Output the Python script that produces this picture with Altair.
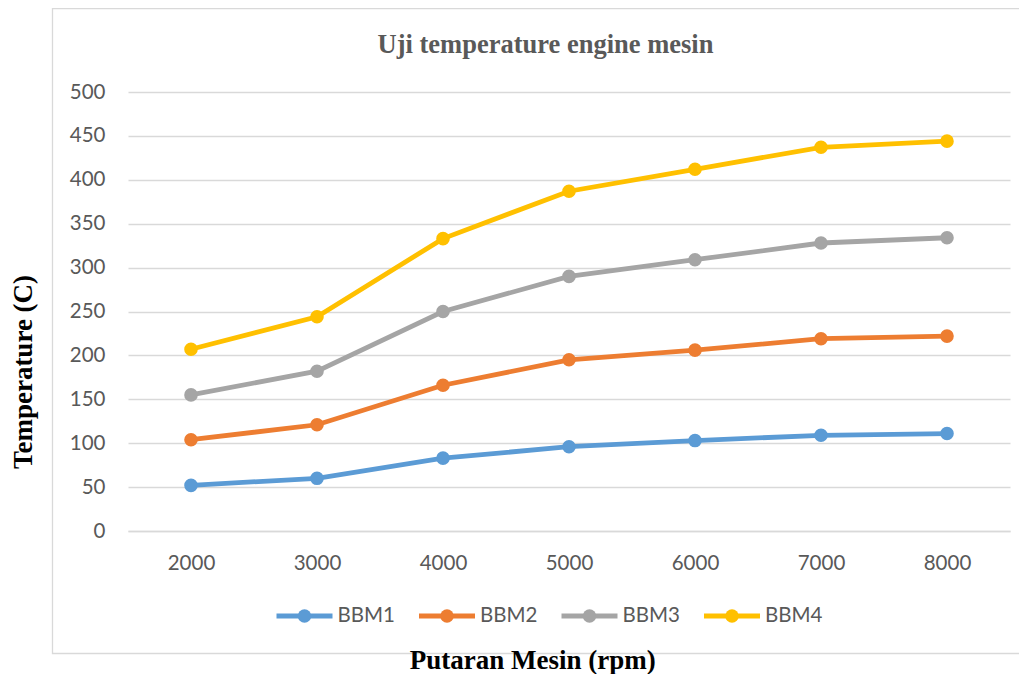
import altair as alt
import pandas as pd

# ---- data ----
rpm = ["2000", "3000", "4000", "5000", "6000", "7000", "8000"]
bbm1 = [52, 60, 83, 96, 103, 109, 111]
bbm2 = [104, 121, 166, 195, 206, 219, 222]
bbm3 = [155, 182, 250, 290, 309, 328, 334]
bbm4 = [207, 244, 333, 387, 412, 437, 444]
series = ["BBM1", "BBM2", "BBM3", "BBM4"]
colors = ["#5B9BD5", "#ED7D31", "#A5A5A5", "#FFC000"]
y_ticks = [0, 50, 100, 150, 200, 250, 300, 350, 400, 450, 500]

rows = []
for name, vals in zip(series, [bbm1, bbm2, bbm3, bbm4]):
    for r, v in zip(rpm, vals):
        rows.append({"rpm": r, "temp": v, "series": name})
df = pd.DataFrame(rows)
legend_df = pd.DataFrame({"series": series})

LABEL_FONT = "Lato"
LABEL_COLOR = "#595959"
GRID = "#d9d9d9"

x_enc = alt.X(
    "rpm:O",
    sort=rpm,
    scale=alt.Scale(type="point", padding=0.5),
    axis=alt.Axis(
        title=None, labelAngle=0, labelFont=LABEL_FONT, labelFontSize=20.5,
        labelColor=LABEL_COLOR, labelPadding=22, ticks=False, tickSize=0,
        domain=True, domainColor=GRID, domainWidth=1.3, grid=False,
    ),
)
y_enc = alt.Y(
    "temp:Q",
    scale=alt.Scale(domain=[0, 500], nice=False, zero=True),
    axis=alt.Axis(
        title=None, values=y_ticks, grid=True, gridColor=GRID, gridWidth=1.3,
        domain=False, ticks=False, tickSize=0, labelPadding=23,
        labelFont=LABEL_FONT, labelFontSize=20.5, labelColor=LABEL_COLOR,
    ),
)
color_scale = alt.Scale(domain=series, range=colors)

base = alt.Chart(df)
lines = base.mark_line(strokeWidth=4.8).encode(
    x=x_enc, y=y_enc,
    color=alt.Color("series:N", scale=color_scale, legend=None),
    detail="series:N",
)
points = base.mark_circle(size=185, opacity=1).encode(
    x=x_enc, y=y_enc,
    color=alt.Color("series:N", scale=color_scale, legend=None),
)

one = alt.Chart(pd.DataFrame({"k": [0]}))
border = one.mark_rect(filled=False, stroke=GRID, strokeWidth=1.3).encode(
    x=alt.value(-75.5), x2=alt.value(902), y=alt.value(-83.5), y2=alt.value(561.5)
)
title = one.mark_text(
    text="Uji temperature engine mesin", font="Liberation Serif", fontSize=26.5,
    fontWeight="bold", color=LABEL_COLOR, align="center", baseline="alphabetic",
).encode(x=alt.value(417.5), y=alt.value(-39))
x_title = one.mark_text(
    text="Putaran Mesin (rpm)", font="Liberation Serif", fontSize=27,
    fontWeight="bold", color="#000000", align="center", baseline="alphabetic",
).encode(x=alt.value(404.8), y=alt.value(576.5))
y_title = one.mark_text(
    text="Temperature (C)", font="Liberation Serif", fontSize=27, angle=270,
    fontWeight="bold", color="#000000", align="center", baseline="alphabetic",
).encode(x=alt.value(-95.7), y=alt.value(280))

main = alt.layer(border, lines, points, title, x_title, y_title)

# ---- legend (line + marker + label), laid out by its own point scale ----
leg_x = alt.X(
    "series:N", sort=series, axis=None,
    scale=alt.Scale(type="point", domain=series, range=[176.5, 604], padding=0),
)
leg_color = alt.Color("series:N", scale=color_scale, legend=None)
leg_base = alt.Chart(legend_df)
leg_line = leg_base.mark_tick(orient="horizontal", size=56, thickness=4.8, opacity=1).encode(
    x=leg_x, y=alt.value(524), color=leg_color
)
leg_dot = leg_base.mark_circle(size=180, opacity=1).encode(
    x=leg_x, y=alt.value(524), color=leg_color
)
leg_text = leg_base.mark_text(
    align="left", baseline="middle", dx=33, font=LABEL_FONT, fontSize=20.5,
    color=LABEL_COLOR,
).encode(x=leg_x, y=alt.value(524), text="series:N")
legend = alt.layer(leg_line, leg_dot, leg_text)

chart = alt.layer(main, legend).resolve_scale(
    x="independent", y="independent", color="independent"
).properties(
    width=882,
    height=439,
    padding={"left": 120, "top": 84, "right": 9, "bottom": 143},
    autosize=alt.AutoSizeParams(type="none"),
).configure_view(stroke=None)

chart.save("out.html", embed_options={"renderer": "svg", "actions": False})
